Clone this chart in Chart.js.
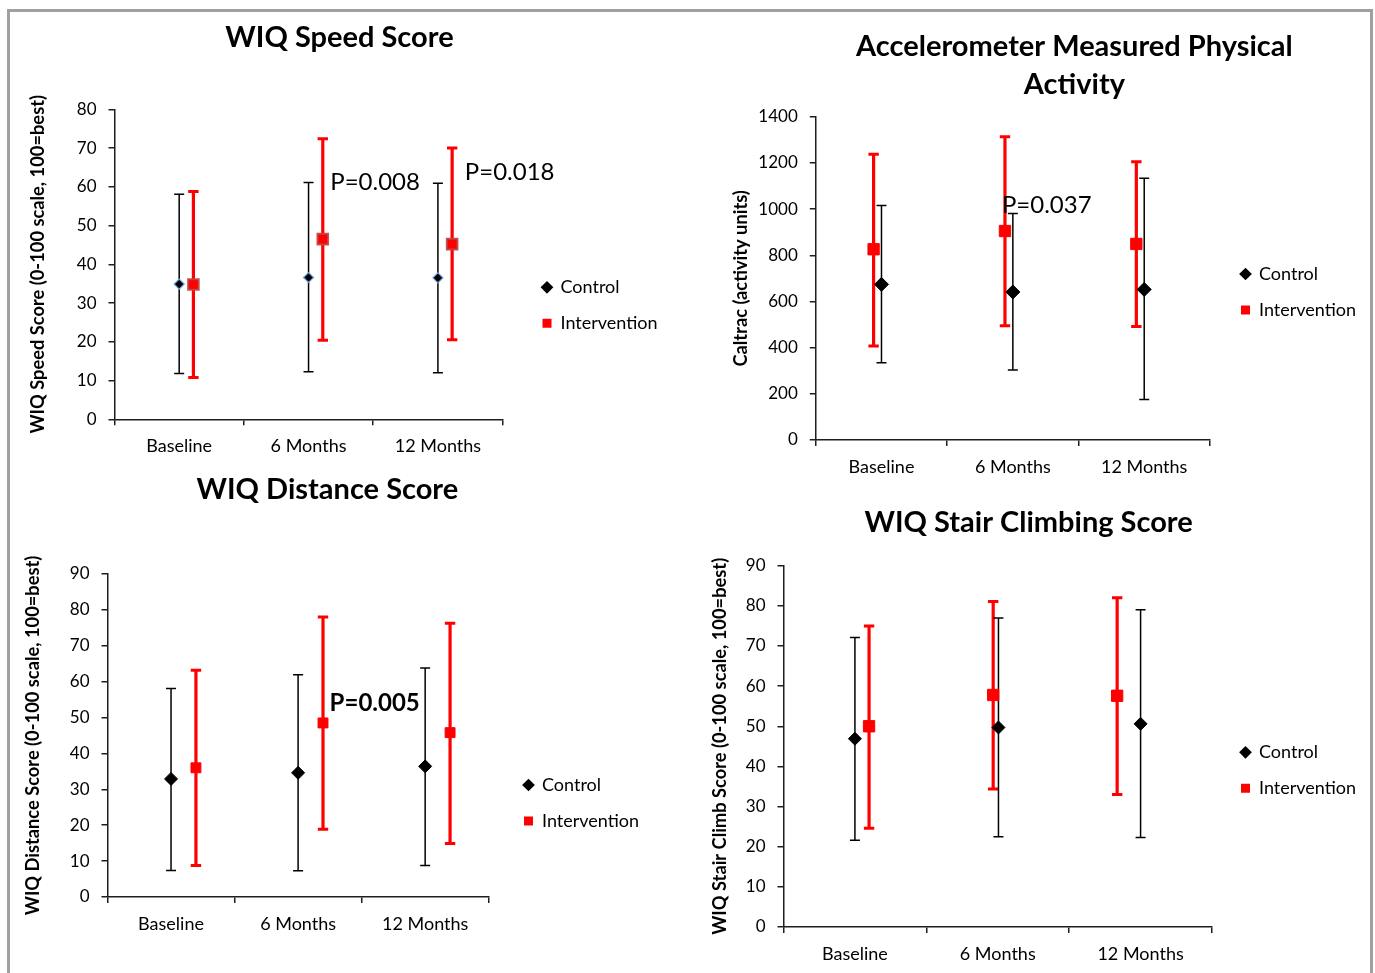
<!DOCTYPE html>
<html><head><meta charset="utf-8">
<script src="https://cdn.jsdelivr.net/npm/chart.js@4"></script>
<style>
html,body{margin:0;padding:0;background:#fff;overflow:hidden;width:1375px;height:973px;}
#frame{position:absolute;left:7px;top:9px;width:1366px;height:1000px;box-sizing:border-box;border:3px solid #a0a0a4;border-bottom:none;}
canvas{position:absolute;}
</style></head><body>
<div id="frame"></div>
<canvas id="cSpeed"></canvas>
<canvas id="cAccel"></canvas>
<canvas id="cDist"></canvas>
<canvas id="cStair"></canvas>
<script>
// ---------------- DATA ----------------
const categories = ['Baseline', '6 Months', '12 Months'];
const seriesNames = ['Control', 'Intervention'];

// WIQ Speed Score
const speedCtrlMean = [34.9, 36.6, 36.5];
const speedCtrlLow  = [11.8, 12.3, 12.0];
const speedCtrlHigh = [58.1, 61.1, 60.9];
const speedIntMean  = [34.8, 46.5, 45.2];
const speedIntLow   = [10.8, 20.4, 20.5];
const speedIntHigh  = [58.8, 72.4, 70.0];
const speedCtrlSlot = [0.50, 0.50, 0.50];
const speedIntSlot  = [0.61, 0.61, 0.61];
const speedYMax = 80, speedYStep = 10;
const speedPText = ['P=0.008', 'P=0.018'];
const speedPX = [1.668, 2.708];
const speedPY = [61.1, 63.8];

// Accelerometer (Caltrac)
const accelCtrlMean = [674, 641, 652];
const accelCtrlLow  = [335, 303, 175];
const accelCtrlHigh = [1015, 981, 1133];
const accelIntMean  = [826, 905, 849];
const accelIntLow   = [407, 495, 492];
const accelIntHigh  = [1237, 1313, 1205];
const accelCtrlSlot = [0.50, 0.50, 0.50];
const accelIntSlot  = [0.44, 0.44, 0.44];
const accelYMax = 1400, accelYStep = 200;
const accelPText = ['P=0.037'];
const accelPX = [1.417];
const accelPY = [1018];

// WIQ Distance Score
const distCtrlMean = [32.9, 34.6, 36.4];
const distCtrlLow  = [7.4, 7.3, 8.8];
const distCtrlHigh = [58.1, 61.9, 63.8];
const distIntMean  = [36.0, 48.5, 45.8];
const distIntLow   = [8.8, 18.9, 14.9];
const distIntHigh  = [63.2, 78.0, 76.3];
const distCtrlSlot = [0.50, 0.50, 0.50];
const distIntSlot  = [0.696, 0.696, 0.696];
const distYMax = 90, distYStep = 10;
const distPText = ['P=0.005'];
const distPX = [1.748];
const distPY = [54.0];

// WIQ Stair Climbing Score
const stairCtrlMean = [46.9, 49.7, 50.6];
const stairCtrlLow  = [21.6, 22.5, 22.3];
const stairCtrlHigh = [72.1, 77.0, 79.0];
const stairIntMean  = [50.0, 57.8, 57.6];
const stairIntLow   = [24.6, 34.4, 33.0];
const stairIntHigh  = [75.0, 81.1, 82.0];
const stairCtrlSlot = [0.50, 0.505, 0.50];
const stairIntSlot  = [0.599, 0.468, 0.336];
const stairYMax = 90, stairYStep = 10;
const stairPText = [];
const stairPX = [];
const stairPY = [];

// ---------------- RENDERING ----------------
const FONT = 'Lato';
const AXIS = '#1e1e1e';
const PAD = 18, BOX = 9, LEGFONT = 18;
const TSIZE = 29, TLH = 1.3;
const YT_SIZE = 18.3, YT_LH = 1.2;

const pvalPlugin = {
  id: 'pvals',
  afterDatasetsDraw(chart, args, opts) {
    if (!opts || !opts.texts || !opts.texts.length) return;
    const ctx = chart.ctx, xs = chart.scales.x, ys = chart.scales.y;
    ctx.save();
    ctx.font = (opts.bold ? 'bold ' : '') + opts.size + 'px ' + FONT;
    ctx.fillStyle = '#000'; ctx.textAlign = 'left'; ctx.textBaseline = 'middle';
    opts.texts.forEach((t, i) => ctx.fillText(t, xs.getPixelForValue(opts.xs[i]), ys.getPixelForValue(opts.ys[i])));
    ctx.restore();
  }
};

function points(slot, vals) { return vals.map((v, i) => ({x: i + slot[i], y: v})); }
function errBars(slot, lo, hi) {
  const d = [];
  lo.forEach((v, i) => { d.push({x: i + slot[i], y: v}, {x: i + slot[i], y: hi[i]}, {x: i + slot[i], y: null}); });
  return d;
}

function makePanel(id, geo, d) {
  const W = Math.round(geo.r - geo.l), H = Math.round(geo.b - geo.t);
  const cv = document.getElementById(id);
  cv.width = W; cv.height = H;
  cv.style.left = geo.l + 'px'; cv.style.top = geo.t + 'px';
  const R = geo.l + W, B = geo.t + H;
  const lay = {};
  function compute(LWn) {
    lay.G = geo.legendX - geo.right - PAD - BOX / 2;
    const boxLeft = Math.max(geo.l, Math.min(geo.yTitleX - 12, 2 * geo.titleCX - geo.right - lay.G - LWn));
    lay.G2 = Math.max(0, 2 * geo.titleCX - boxLeft - geo.right - lay.G - LWn);
    lay.padL = boxLeft - geo.l;
    lay.yAxisW = geo.left - boxLeft;
    lay.yTitlePad = geo.yTitleX - boxLeft - YT_SIZE * YT_LH / 2;
    lay.padR = R - (geo.right + lay.G + LWn + lay.G2);
  }
  compute(146);
  const tlh = TSIZE * TLH;
  const nLines = Array.isArray(d.title) ? d.title.length : 1;
  const tpTop = geo.titleY - geo.t - tlh / 2;
  const tpBot = geo.top - geo.t - tpTop - nLines * tlh;
  const xAxisH = B - geo.bottom;
  const legTitlePad = geo.legendY - geo.top - PAD - LEGFONT / 2 - 10;

  const labelFont = {family: FONT, size: 17};
  const chart = new Chart(cv, {
    type: 'scatter',
    data: {
      datasets: [
        {label: seriesNames[0], data: points(d.cSlot, d.cMean), xAxisID: 'x', yAxisID: 'y',
         pointStyle: 'rectRot', pointRadius: d.cR, pointHoverRadius: d.cR,
         backgroundColor: '#000', borderColor: d.cBorder || '#000', borderWidth: d.cBW || 1},
        {label: seriesNames[1], data: points(d.iSlot, d.iMean), xAxisID: 'x', yAxisID: 'y',
         pointStyle: 'rect', pointRadius: d.iR, pointHoverRadius: d.iR,
         backgroundColor: '#ff0000', borderColor: d.iBorder || '#ff0000', borderWidth: d.iBW || 1},
        {label: 'ctrlErr', data: errBars(d.cSlot, d.cLow, d.cHigh), xAxisID: 'x', yAxisID: 'y',
         showLine: true, spanGaps: false, borderColor: '#000', borderWidth: 1.5,
         pointStyle: 'line', pointRadius: 5, pointHoverRadius: 5, pointBorderColor: '#000', pointBorderWidth: 1.5},
        {label: 'intErr', data: errBars(d.iSlot, d.iLow, d.iHigh), xAxisID: 'x', yAxisID: 'y',
         showLine: true, spanGaps: false, borderColor: '#ff0000', borderWidth: 3.2,
         pointStyle: 'line', pointRadius: 5.2, pointHoverRadius: 5.2, pointBorderColor: '#ff0000', pointBorderWidth: 3}
      ]
    },
    options: {
      responsive: false, animation: false, devicePixelRatio: 1,
      layout: {padding: {left: lay.padL, right: lay.padR, top: 0, bottom: 0}},
      scales: {
        x: {type: 'linear', min: 0, max: 3, display: false},
        xc: {type: 'category', labels: categories, position: 'bottom', offset: true,
             grid: {offset: true, drawOnChartArea: false, tickLength: 6, color: AXIS, lineWidth: 1.5},
             border: {color: AXIS, width: 1.5},
             ticks: {font: {family: FONT, size: 18}, color: '#000', padding: 10, maxRotation: 0},
             afterFit: s => { s.height = xAxisH; }},
        y: {type: 'linear', position: 'left', min: 0, max: d.yMax,
            ticks: {stepSize: d.yStep, font: labelFont, color: '#000', padding: 12,
                    callback: v => String(v)},
            grid: {drawOnChartArea: false, tickLength: 6, color: AXIS, lineWidth: 1.5},
            border: {color: AXIS, width: 1.5},
            title: {display: true, text: d.yTitle, color: '#000',
                    font: {family: FONT, size: YT_SIZE, weight: 'bold', lineHeight: YT_LH},
                    padding: {top: lay.yTitlePad, bottom: 0}},
            afterFit: s => { s.width = lay.yAxisW; }},
        gap: {type: 'linear', position: 'right', display: true, weight: 0,
              grid: {display: false}, border: {display: false}, ticks: {display: false},
              afterFit: s => { s.width = lay.G; }},
        gap2: {type: 'linear', position: 'right', display: true, weight: 2000,
              grid: {display: false}, border: {display: false}, ticks: {display: false},
              afterFit: s => { s.width = lay.G2; }}
      },
      plugins: {
        title: {display: true, text: d.title, color: '#000',
                font: {family: FONT, size: TSIZE, weight: 'bold', lineHeight: TLH},
                padding: {top: tpTop, bottom: tpBot}},
        legend: {display: true, position: 'right', fullSize: false, align: 'start', maxWidth: 400,
                 title: {display: true, text: '', font: {family: FONT, size: 10, lineHeight: 1}, padding: {top: legTitlePad, bottom: 0}},
                 labels: {usePointStyle: true, boxWidth: BOX, boxHeight: BOX, padding: PAD, color: '#000',
                          font: {family: FONT, size: LEGFONT},
                          generateLabels(chart) {
                            return Chart.defaults.plugins.legend.labels.generateLabels(chart)
                              .filter(l => l.datasetIndex < 2)
                              .map(l => Object.assign({}, l, {strokeStyle: l.fillStyle, lineWidth: 0}));
                          }}},
        tooltip: {enabled: false},
        pvals: {texts: d.pText, xs: d.pX, ys: d.pY, size: 24, bold: !!d.pBold}
      }
    },
    plugins: [pvalPlugin]
  });
  // second pass: use the legend's real width to place everything exactly
  compute(chart.legend.width);
  chart.options.layout.padding = {left: lay.padL, right: lay.padR, top: 0, bottom: 0};
  chart.options.scales.y.title.padding = {top: lay.yTitlePad, bottom: 0};
  chart.update();
}

makePanel('cSpeed',
  {l: 0, t: 12, r: 668, b: 464.3, left: 114.5, right: 502.6, top: 109.3, bottom: 419.3,
   titleCX: 339.5, titleY: 38, yTitleX: 38, legendX: 547, legendY: 287.3},
  {title: 'WIQ Speed Score', yTitle: 'WIQ Speed Score (0-100 scale, 100=best)',
   yMax: speedYMax, yStep: speedYStep,
   cMean: speedCtrlMean, cLow: speedCtrlLow, cHigh: speedCtrlHigh, cSlot: speedCtrlSlot,
   iMean: speedIntMean, iLow: speedIntLow, iHigh: speedIntHigh, iSlot: speedIntSlot,
   cR: 5, cBorder: '#6f9fd8', cBW: 1.2, iR: 7.5, iBorder: 'rgba(190,70,70,0.9)', iBW: 2,
   pText: speedPText, pX: speedPX, pY: speedPY});

makePanel('cAccel',
  {l: 700, t: 12, r: 1368, b: 485, left: 815.8, right: 1209.9, top: 116.7, bottom: 440,
   titleCX: 1074.4, titleY: 46.7, yTitleX: 741, legendX: 1245.5, legendY: 274},
  {title: ['Accelerometer Measured Physical', 'Activity'], yTitle: 'Caltrac (activity units)',
   yMax: accelYMax, yStep: accelYStep,
   cMean: accelCtrlMean, cLow: accelCtrlLow, cHigh: accelCtrlHigh, cSlot: accelCtrlSlot,
   iMean: accelIntMean, iLow: accelIntLow, iHigh: accelIntHigh, iSlot: accelIntSlot,
   cR: 7, iR: 8, iBorder: '#ff0000', iBW: 1,
   pText: accelPText, pX: accelPX, pY: accelPY});

makePanel('cDist',
  {l: 0, t: 470, r: 652, b: 942, left: 107.5, right: 488.7, top: 574, bottom: 897,
   titleCX: 327.4, titleY: 490, yTitleX: 33.6, legendX: 528.5, legendY: 785},
  {title: 'WIQ Distance Score', yTitle: 'WIQ Distance Score (0-100 scale, 100=best)',
   yMax: distYMax, yStep: distYStep,
   cMean: distCtrlMean, cLow: distCtrlLow, cHigh: distCtrlHigh, cSlot: distCtrlSlot,
   iMean: distIntMean, iLow: distIntLow, iHigh: distIntHigh, iSlot: distIntSlot,
   cR: 6.5, iR: 7,
   pText: distPText, pX: distPX, pY: distPY, pBold: true});

makePanel('cStair',
  {l: 680, t: 490, r: 1368, b: 972, left: 783.5, right: 1212, top: 565.7, bottom: 927,
   titleCX: 1028.6, titleY: 523, yTitleX: 719.7, legendX: 1245.5, legendY: 752.3},
  {title: 'WIQ Stair Climbing Score', yTitle: 'WIQ Stair Climb Score (0-100 scale, 100=best)',
   yMax: stairYMax, yStep: stairYStep,
   cMean: stairCtrlMean, cLow: stairCtrlLow, cHigh: stairCtrlHigh, cSlot: stairCtrlSlot,
   iMean: stairIntMean, iLow: stairIntLow, iHigh: stairIntHigh, iSlot: stairIntSlot,
   cR: 6.5, iR: 8,
   pText: stairPText, pX: stairPX, pY: stairPY});
</script>
</body></html>
